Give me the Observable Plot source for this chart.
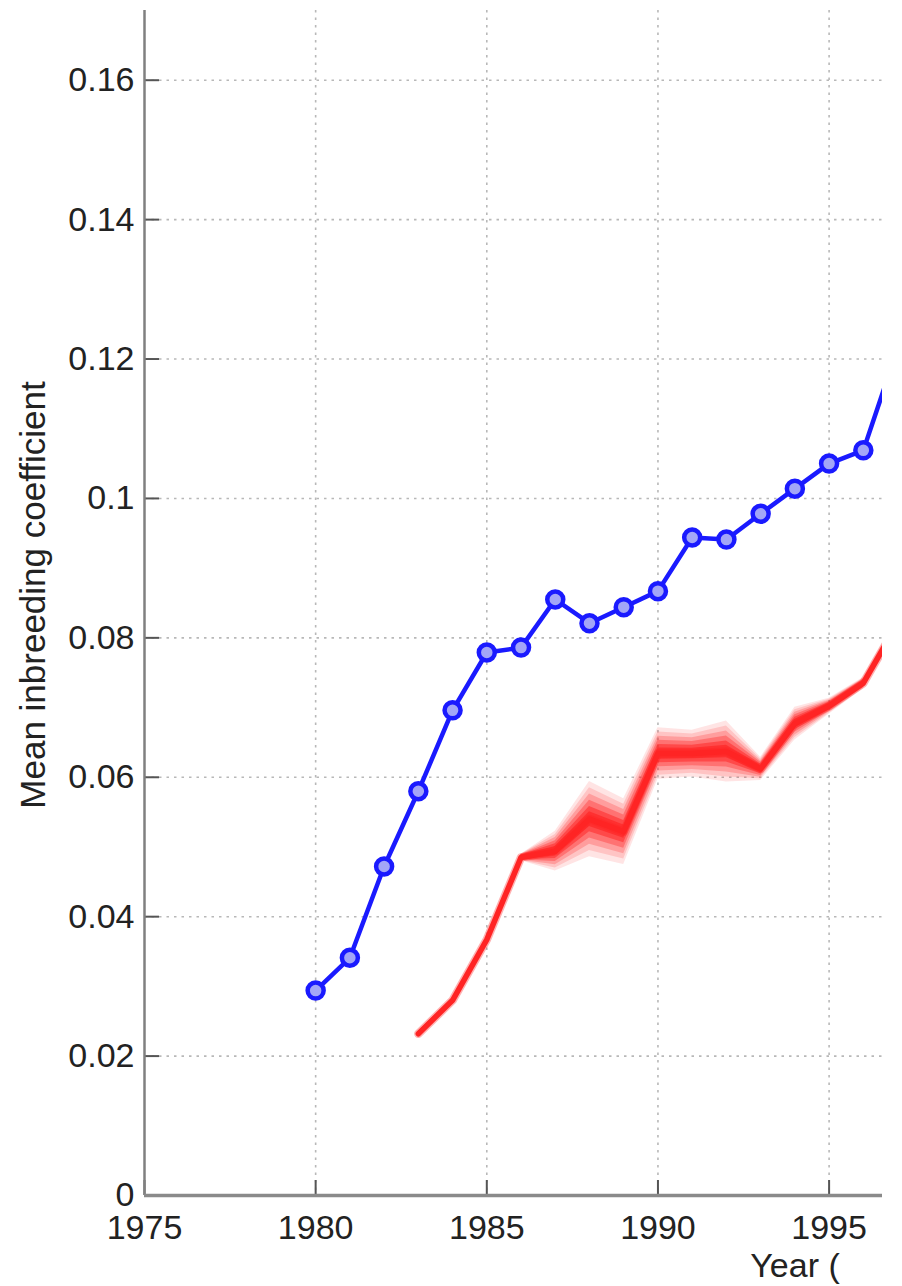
<!DOCTYPE html>
<html><head><meta charset="utf-8">
<script src="https://cdn.jsdelivr.net/npm/d3@7"></script>
<script src="https://cdn.jsdelivr.net/npm/@observablehq/plot@0.6"></script>
<style>
body{margin:0;background:#fff}
#wrap{width:882px;height:1286px;overflow:hidden;background:#fff}
#wrap svg{overflow:hidden}
</style>
</head><body><div id="wrap"></div>
<script>
// Observed series (blue, circles)
const blueYears  = [1980,1981,1982,1983,1984,1985,1986,1987,1988,1989,1990,1991,1992,1993,1994,1995,1996,1997];
const blueValues = [0.0294,0.0341,0.0472,0.0580,0.0696,0.0779,0.0786,0.0855,0.0821,0.0844,0.0867,0.0944,0.0941,0.0978,0.1014,0.1050,0.1069,0.1215];
// Estimated series (red, with spread band)
const redYears   = [1983,1984,1985,1986,1987,1988,1989,1990,1991,1992,1993,1994,1995,1996,1997];
const redValues  = [0.0232,0.0280,0.0367,0.0485,0.0494,0.0540,0.0522,0.0634,0.0634,0.0637,0.0612,0.0677,0.0702,0.0735,0.0820];
const redSpread  = [0.0000,0.0000,0.0000,0.0001,0.0015,0.0030,0.0026,0.0020,0.0018,0.0024,0.0008,0.0012,0.0005,0.0003,0.0003];
// Axis ticks
const xTicks = [1975,1980,1985,1990,1995];
const yTicks = [0,0.02,0.04,0.06,0.08,0.1,0.12,0.14,0.16];
const yLabel = "Mean inbreeding coefficient";
const xLabel = "Year (";

const blue = blueYears.map((y,i)=>({year:y, value:blueValues[i]}));
const red  = redYears.map((y,i)=>({year:y, value:redValues[i], spread:redSpread[i]}));

const W = 882, H = 1286, mL = 144, mT = 10, mB = 91;
const frameW = W - mL, frameH = H - mT - mB;
const tickLen = 15;
const font = "'Liberation Sans', Arial, Helvetica, sans-serif";
const grid = {stroke:"#b8b8b8", strokeWidth:1.6, strokeDasharray:"2.5,5", strokeOpacity:1};

// soft band layers (factor of spread, opacity)
const bandLayers = [[1.7,0.12],[1.4,0.16],[1.1,0.24],[0.8,0.34],[0.5,0.5],[0.25,0.6]];
const pad = 0.0003; // ~ line half-width in value units for soft edge
const bandMarks = bandLayers.map(([f,o]) =>
  Plot.areaY(red, {x:"year", y1:d=>d.value - d.spread*f - pad, y2:d=>d.value + d.spread*f + pad,
                   fill:"#ff2020", fillOpacity:o, curve:"linear"}));

const chart = Plot.plot({
  width: W, height: H,
  marginLeft: mL, marginRight: 0, marginTop: mT, marginBottom: mB,
  style: {fontFamily: font, fontSize: "34px", color: "#222", background: "#fff", overflow: "hidden"},
  x: {domain: [1975, 1975 + frameW/34.23]},
  y: {domain: [0, 0.17]},
  marks: [
    Plot.ruleX(xTicks.filter(d=>d!==1975), {...grid}),
    Plot.ruleY(yTicks.filter(d=>d!==0), {...grid}),
    Plot.tickX(xTicks, {x: d=>d, insetTop: frameH - tickLen, stroke:"#555", strokeWidth:2}),
    Plot.tickY(yTicks, {y: d=>d, insetRight: frameW - tickLen, stroke:"#555", strokeWidth:2}),
    Plot.ruleX([1975], {stroke:"#808080", strokeWidth:2.5}),
    Plot.ruleY([0], {stroke:"#8a8a8a", strokeWidth:3.5}),
    ...bandMarks,
    Plot.line(red, {x:"year", y:"value", stroke:"#ff2020", strokeOpacity:0.35, strokeWidth:8.5}),
    Plot.line(red, {x:"year", y:"value", stroke:"#ff2424", strokeWidth:5.5}),
    Plot.line(blue, {x:"year", y:"value", stroke:"#1a1aff", strokeWidth:4.5}),
    Plot.dot(blue, {x:"year", y:"value", r:8, stroke:"#1a1aff", strokeWidth:4.5, fill:"#a3a6f7"}),
    Plot.axisX(xTicks, {tickSize:0, tickPadding:19, tickFormat:d=>String(d), label:null, fontSize:34}),
    Plot.axisY(yTicks, {tickSize:0, tickPadding:10, tickFormat:d=>String(+d.toFixed(2)), label:null, fontSize:34})
  ]
});

const svg = d3.select(chart);
svg.append("text")
  .attr("transform", "translate(45,595) rotate(-90)")
  .attr("text-anchor", "middle")
  .attr("fill", "#222")
  .attr("font-family", font)
  .attr("font-size", 35)
  .text(yLabel);
svg.append("text")
  .attr("x", 795).attr("y", 1277)
  .attr("fill", "#222")
  .attr("font-family", font)
  .attr("font-size", 34)
  .text(xLabel);

document.getElementById("wrap").append(chart);
</script>
</body></html>
